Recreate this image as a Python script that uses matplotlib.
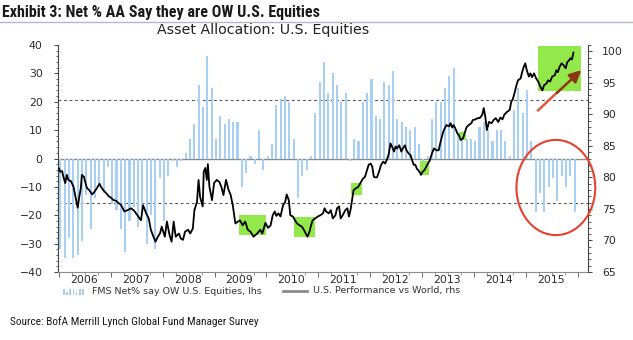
import matplotlib
matplotlib.use("Agg")
import matplotlib.pyplot as plt
import numpy as np
from matplotlib.patches import Rectangle, Ellipse
from matplotlib.lines import Line2D
from matplotlib.ticker import MultipleLocator

# FMS net % say overweight U.S. equities, monthly from Jan 2006 (lhs)
fms_net = [-32, -35, -28, -35, -34, -29, -13, -25, -14, -10, -12, -3,
           -16, -18, -25, -33, -22, -17, -24, -18, -30, -20, -32, -7,
           -22, -6, -1, -3, -1, 2, 7, 12, 26, 18, 36, 25,
           7, 15, 12, 14, 13, 13, -10, -5, 1, -2, 10, -4,
           1, 5, 19, 21, 22, 20, 7, -14, -6, -4, 1, 16,
           27, 34, 23, 30, 26, 20, 23, -1, 7, 6, 20, 23,
           28, 15, 14, 27, 26, 31, 14, 13, 11, 10, 11, 5,
           -2, 1, 14, 20, 20, 25, 29, 32, 9, 6, 7, 7,
           6, 11, 13, 10, 6, 10, 10, 6, 1, 17, 25, 16,
           24, 6, -19, -12, -19, -10, -7, -15, -6, -10, -6, -19]

# U.S. performance vs world (rhs)
perf_year = [2006.00, 2006.02, 2006.06, 2006.08, 2006.12, 2006.15, 2006.18, 2006.23,
             2006.28, 2006.31, 2006.36, 2006.39, 2006.42, 2006.44, 2006.48, 2006.51,
             2006.54, 2006.58, 2006.64, 2006.68, 2006.73, 2006.78, 2006.81, 2006.85,
             2006.91, 2006.96, 2007.00, 2007.05, 2007.10, 2007.15, 2007.19, 2007.26,
             2007.32, 2007.39, 2007.45, 2007.52, 2007.58, 2007.62, 2007.68, 2007.73,
             2007.77, 2007.82, 2007.86, 2007.90, 2007.95, 2007.98, 2008.04, 2008.08,
             2008.13, 2008.17, 2008.21, 2008.25, 2008.31, 2008.35, 2008.39, 2008.43,
             2008.49, 2008.53, 2008.58, 2008.61, 2008.66, 2008.69, 2008.72, 2008.77,
             2008.79, 2008.82, 2008.85, 2008.87, 2008.90, 2008.95, 2008.99, 2009.04,
             2009.09, 2009.13, 2009.17, 2009.22, 2009.27, 2009.31, 2009.35, 2009.40,
             2009.45, 2009.49, 2009.54, 2009.59, 2009.64, 2009.69, 2009.75, 2009.82,
             2009.88, 2009.92, 2009.98, 2010.03, 2010.08, 2010.12, 2010.16, 2010.19,
             2010.23, 2010.27, 2010.32, 2010.36, 2010.39, 2010.43, 2010.46, 2010.51,
             2010.55, 2010.59, 2010.64, 2010.68, 2010.72, 2010.77, 2010.79, 2010.83,
             2010.86, 2010.89, 2010.94, 2010.99, 2011.04, 2011.09, 2011.12, 2011.15,
             2011.20, 2011.24, 2011.28, 2011.33, 2011.36, 2011.40, 2011.43, 2011.47,
             2011.52, 2011.56, 2011.59, 2011.62, 2011.65, 2011.68, 2011.73, 2011.77,
             2011.81, 2011.86, 2011.90, 2011.94, 2011.97, 2012.01, 2012.04, 2012.07,
             2012.10, 2012.13, 2012.17, 2012.21, 2012.25, 2012.29, 2012.33, 2012.36,
             2012.39, 2012.42, 2012.46, 2012.49, 2012.52, 2012.56, 2012.60, 2012.63,
             2012.67, 2012.70, 2012.74, 2012.78, 2012.81, 2012.84, 2012.87, 2012.90,
             2012.95, 2012.98, 2013.01, 2013.05, 2013.10, 2013.15, 2013.19, 2013.23,
             2013.28, 2013.32, 2013.35, 2013.39, 2013.42, 2013.47, 2013.52, 2013.55,
             2013.58, 2013.61, 2013.64, 2013.68, 2013.71, 2013.75, 2013.79, 2013.82,
             2013.86, 2013.90, 2013.95, 2013.98, 2014.03, 2014.07, 2014.11, 2014.16,
             2014.19, 2014.22, 2014.25, 2014.29, 2014.34, 2014.38, 2014.42, 2014.47,
             2014.51, 2014.55, 2014.59, 2014.64, 2014.69, 2014.72, 2014.75, 2014.79,
             2014.82, 2014.85, 2014.90, 2014.93, 2014.96, 2014.99, 2015.02, 2015.06,
             2015.09, 2015.12, 2015.16, 2015.20, 2015.24, 2015.28, 2015.32, 2015.35,
             2015.40, 2015.43, 2015.47, 2015.51, 2015.56, 2015.59, 2015.62, 2015.65,
             2015.69, 2015.73, 2015.77, 2015.80, 2015.83, 2015.86, 2015.89, 2015.92]
perf_value = [81.4, 80.9, 81.0, 80.2, 79.1, 80.4, 79.6, 79.4,
              78.5, 77.2, 75.2, 76.9, 78.3, 80.4, 80.1, 79.1,
              78.3, 78.0, 77.3, 77.7, 78.3, 79.0, 78.5, 78.0,
              77.5, 77.0, 76.8, 76.4, 76.3, 75.9, 75.7, 74.6,
              74.8, 75.1, 74.7, 73.9, 73.2, 75.6, 74.3, 73.5,
              71.7, 70.6, 69.8, 70.5, 71.2, 72.2, 70.6, 73.0,
              70.9, 69.8, 73.0, 70.6, 71.1, 70.3, 70.1, 71.4,
              71.7, 71.1, 71.9, 74.8, 76.1, 79.6, 76.9, 75.4,
              80.9, 81.5, 79.6, 82.1, 78.5, 76.4, 79.1, 79.6,
              79.3, 78.5, 77.2, 79.6, 78.0, 77.2, 75.6, 72.7,
              73.0, 73.2, 72.4, 73.0, 71.7, 71.4, 70.6, 71.1,
              71.7, 71.1, 72.8, 72.0, 72.4, 74.0, 74.6, 73.9,
              74.3, 73.8, 75.6, 76.1, 77.3, 76.4, 74.0, 73.8,
              73.2, 72.7, 72.4, 72.2, 71.7, 70.9, 70.6, 71.4,
              72.4, 73.2, 73.5, 73.8, 74.0, 74.3, 75.1, 74.6,
              74.3, 74.8, 73.5, 74.0, 75.1, 75.4, 73.5, 74.0,
              74.8, 75.1, 73.8, 74.8, 76.4, 78.0, 78.3, 78.5,
              79.1, 79.8, 80.1, 81.2, 82.0, 82.2, 81.7, 80.1,
              80.0, 80.0, 80.9, 82.0, 82.5, 82.2, 83.0, 83.8,
              85.4, 84.9, 84.1, 84.9, 84.6, 85.1, 84.1, 84.6,
              85.1, 84.3, 83.8, 83.5, 82.7, 82.0, 82.0, 81.4,
              80.9, 80.4, 80.9, 81.2, 82.0, 82.7, 83.8, 84.6,
              84.3, 84.3, 85.4, 86.7, 87.5, 88.3, 88.1, 88.6,
              87.9, 88.3, 87.8, 87.0, 86.7, 85.9, 86.2, 87.0,
              88.0, 88.3, 88.6, 89.1, 89.2, 89.4, 89.4, 89.9,
              91.0, 89.6, 87.5, 88.8, 88.6, 89.1, 89.4, 88.8,
              89.5, 89.2, 90.0, 90.4, 90.7, 92.0, 92.4, 93.6,
              94.6, 95.4, 95.7, 96.7, 97.5, 98.1, 97.0, 96.0,
              96.5, 95.9, 96.5, 95.7, 95.2, 94.4, 93.8, 94.6,
              94.9, 95.4, 95.2, 96.0, 96.2, 97.0, 96.7, 97.5,
              98.1, 97.8, 97.3, 98.3, 98.5, 98.9, 98.7, 99.8]

years = list(range(2006, 2016))
# mean +/- 1 sd reference lines on the lhs
upper_band = 20.5
lower_band = -15.8

# green highlight boxes (x0, x1, y0, y1) in rhs units
highlights = [(2009.47, 2009.99, 70.9, 74.0),
              (2010.54, 2010.93, 70.5, 73.8),
              (2011.63, 2011.84, 77.2, 79.1),
              (2012.97, 2013.14, 80.4, 82.6),
              (2013.71, 2013.84, 85.9, 87.2),
              (2015.24, 2016.07, 93.7, 100.8)]

bar_x = 2006 + np.arange(len(fms_net)) / 12 + 0.025

W, H = 633, 340
fig = plt.figure(figsize=(W / 100, H / 100), dpi=100)
ax = fig.add_axes([58 / W, 1 - 272 / H, 530 / W, 227 / H])
ax2 = ax.twinx()

font = "DejaVu Sans"
narrow = ["Liberation Sans Narrow", "Roboto Condensed", "Open Sans Condensed",
          "DejaVu Sans"]
tick_color = "#2b2b2b"

ax.bar(bar_x, fms_net, width=0.04, color="#a8d0f5", zorder=2)
ax.axhline(0, color="#8c8c8c", lw=1.0, zorder=1)
ax.axhline(upper_band, color="#555555", lw=0.8, dashes=(2.5, 2.5), zorder=1)
ax.axhline(lower_band, color="#555555", lw=0.8, dashes=(2.5, 2.5), zorder=1)

ax.set_xlim(2005.98, 2016.2)
ax.set_ylim(-40, 40)
ax2.set_ylim(65, 101)

for x0, x1, y0, y1 in highlights:
    ax2.add_patch(Rectangle((x0, y0), x1 - x0, y1 - y0, facecolor="#93e84c",
                            edgecolor="none", zorder=1, clip_on=False))

ax2.plot(perf_year, perf_value, color="black", lw=1.3, zorder=3)

# red circle round the latest readings
ax2.add_patch(Ellipse((2015.58, 78.4), 1.52, 15.1, fill=False, edgecolor="#e8402f",
                      lw=1.5, zorder=4, clip_on=False))

# arrow: reddish tail, brown head
ax2.plot([2015.22, 2015.62], [90.5, 93.6], color="#e4583f", lw=1.8, zorder=4,
         solid_capstyle="butt")
ax2.annotate("", xy=(2016.07, 97.0), xytext=(2015.6, 93.4),
             arrowprops=dict(arrowstyle="-|>,head_length=0.7,head_width=0.35",
                             color="#8a3612", lw=1.8, shrinkA=0, shrinkB=0),
             zorder=5, annotation_clip=False)

# axes styling
for a in (ax, ax2):
    a.spines["top"].set_visible(False)
    a.spines["left"].set_color("#444444")
    a.spines["right"].set_color("#444444")
    a.spines["bottom"].set_color("#8c8c8c")
    for s in a.spines.values():
        s.set_linewidth(0.8)
ax2.spines["bottom"].set_visible(False)
ax2.spines["left"].set_visible(False)
ax.spines["right"].set_visible(False)

ax.yaxis.set_major_locator(MultipleLocator(10))
ax.yaxis.set_minor_locator(MultipleLocator(2))
ax2.yaxis.set_major_locator(MultipleLocator(5))
ax2.yaxis.set_minor_locator(MultipleLocator(1))
ax.tick_params(axis="y", which="major", length=3, width=0.7, color="#444444",
               labelsize=7.8, labelcolor=tick_color, pad=8)
ax.tick_params(axis="y", which="minor", length=1.8, width=0.6, color="#444444")
ax2.tick_params(axis="y", which="major", length=3, width=0.7, color="#444444",
                labelsize=7.8, labelcolor=tick_color, pad=7)
ax2.tick_params(axis="y", which="minor", length=1.8, width=0.6, color="#444444")
for lab in ax.get_yticklabels() + ax2.get_yticklabels():
    lab.set_family(font)

ax.set_xticks(list(range(2006, 2017)))
ax.set_xticks(np.arange(2006, 2016.2, 0.25), minor=True)
ax.set_xticklabels([])
ax.tick_params(axis="x", which="major", length=3.5, width=0.7, color="#666666")
ax.tick_params(axis="x", which="minor", length=1.8, width=0.6, color="#888888")
for y in years:
    ax.text(y + 0.48, -0.012, str(y), transform=ax.get_xaxis_transform(),
            ha="center", va="top", fontsize=7.8, color=tick_color, family=font)

# titles
fig.text(2 / W, 1 - 12 / H, "Exhibit 3: Net % AA Say they are OW U.S. Equities",
         fontsize=11.5, fontweight="bold", fontstretch="condensed", color="#1a1a1a",
         va="center", ha="left", family=narrow)
fig.add_artist(Line2D([0, 1], [1 - 22 / H, 1 - 22 / H], transform=fig.transFigure,
                      color="#a9bccd", lw=1.0))
fig.text(157 / W, 1 - 30 / H, "Asset Allocation: U.S. Equities", fontsize=10.2,
         color="#222222", va="center", ha="left", family=font)

# legend
leg_y = 1 - 292 / H
icon_h = [1.0, 0.55, 1.0, 1.0, 0.55, 1.0, 1.0]
for i, hh in enumerate(icon_h):
    fig.add_artist(Rectangle(((63 + i * 3.2) / W, (340 - 295) / H), 1.6 / W, 6 * hh / H,
                             transform=fig.transFigure, facecolor="#a8d0f5",
                             edgecolor="none"))
fig.text(92 / W, leg_y, "FMS Net% say OW U.S. Equities, lhs", fontsize=6.8,
         color="#333333", va="center", ha="left", family=font)
fig.add_artist(Line2D([283 / W, 307 / W], [1 - 290.5 / H, 1 - 290.5 / H],
                      transform=fig.transFigure, color="#8a8a8a", lw=2.0))
fig.text(313 / W, 1 - 291 / H, "U.S. Performance vs World, rhs", fontsize=6.8,
         color="#333333", va="center", ha="left", family=font)

fig.text(10 / W, 1 - 322 / H, "Source: BofA Merrill Lynch Global Fund Manager Survey",
         fontsize=8.2, fontstretch="condensed", color="#1a1a1a", va="center",
         ha="left", family=narrow)

fig.savefig("out.png", dpi=100)
